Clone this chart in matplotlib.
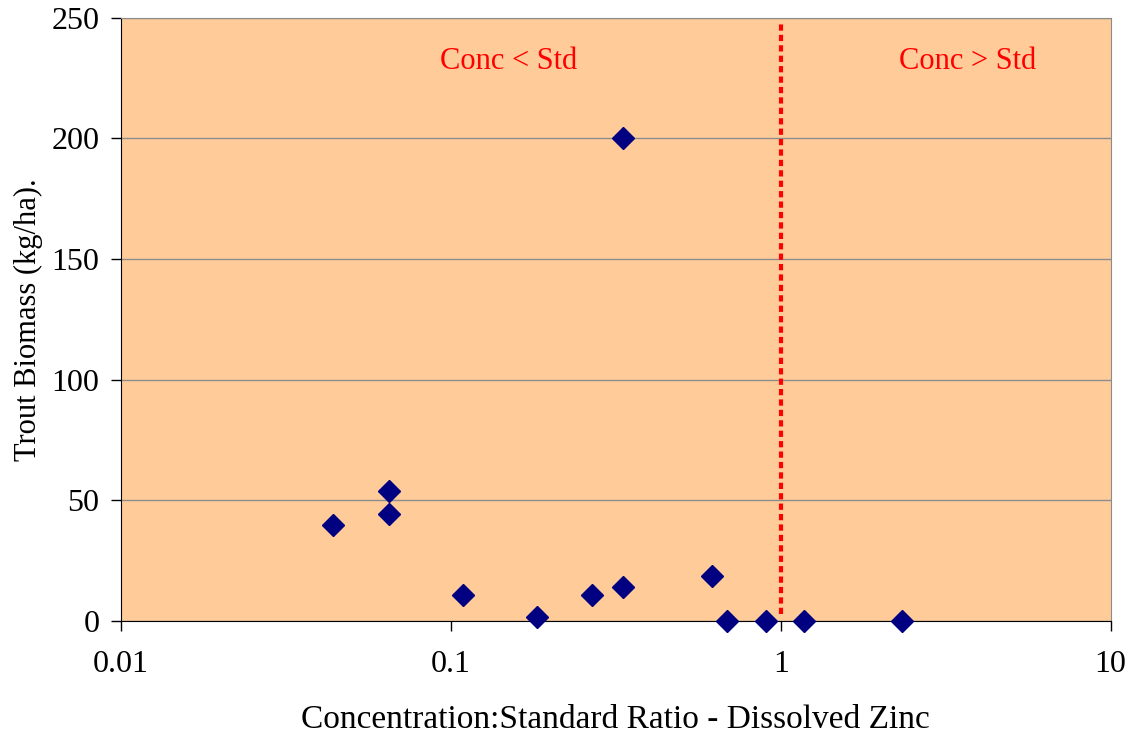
import matplotlib.pyplot as plt
from matplotlib.ticker import FixedLocator, FixedFormatter, NullLocator

# ratio of concentration to standard (dissolved zinc) vs trout biomass
ratio = [0.044, 0.065, 0.065, 0.109, 0.182, 0.267, 0.332, 0.332, 0.618, 0.686, 0.901, 1.175, 2.33]
biomass = [40, 54, 44.5, 11, 1.7, 11, 14.3, 200, 18.8, 0, 0, 0, 0]

x_ticks = [0.01, 0.1, 1, 10]
x_tick_labels = ['0.01', '0.1', '1', '10']
y_ticks = [0, 50, 100, 150, 200, 250]

plt.rcParams['font.family'] = ['Liberation Serif', 'DejaVu Serif']

fig = plt.figure(figsize=(11.31, 7.42), dpi=100)
ax = fig.add_axes([0.107, 0.163, 0.875, 0.813])
ax.set_facecolor('#FFCC99')

ax.set_xscale('log')
ax.set_xlim(0.01, 10)
ax.set_ylim(0, 250)

ax.grid(axis='y', color='#8c8c8c', linewidth=1)
ax.set_axisbelow(True)

ax.plot(ratio, biomass, linestyle='none', marker='D', markersize=11,
        color='#000080', clip_on=False, zorder=4)

# standard line at ratio = 1
ax.axvline(1, ymin=0.012, ymax=0.992, color='red', linewidth=3,
           linestyle=(0, (1.5, 1)), zorder=3)

ax.text(0.15, 232, 'Conc < Std', color='red', fontsize=22, ha='center', va='center')
ax.text(3.69, 232, 'Conc > Std', color='red', fontsize=22, ha='center', va='center')

ax.xaxis.set_major_locator(FixedLocator(x_ticks))
ax.xaxis.set_major_formatter(FixedFormatter(x_tick_labels))
ax.xaxis.set_minor_locator(NullLocator())
ax.set_yticks(y_ticks)
ax.tick_params(axis='both', labelsize=23, length=7.5, width=1, direction='out', color='black')
ax.tick_params(axis='x', pad=13)
ax.tick_params(axis='y', pad=8)

for side in ['left', 'bottom']:
    ax.spines[side].set_color('black')
for side in ['top', 'right']:
    ax.spines[side].set_color('#8c8c8c')

ax.set_xlabel('Concentration:Standard Ratio - Dissolved Zinc', fontsize=24, labelpad=19)
ax.set_ylabel('Trout Biomass (kg/ha).', fontsize=22, labelpad=6)

fig.savefig('out.png', dpi=100)
